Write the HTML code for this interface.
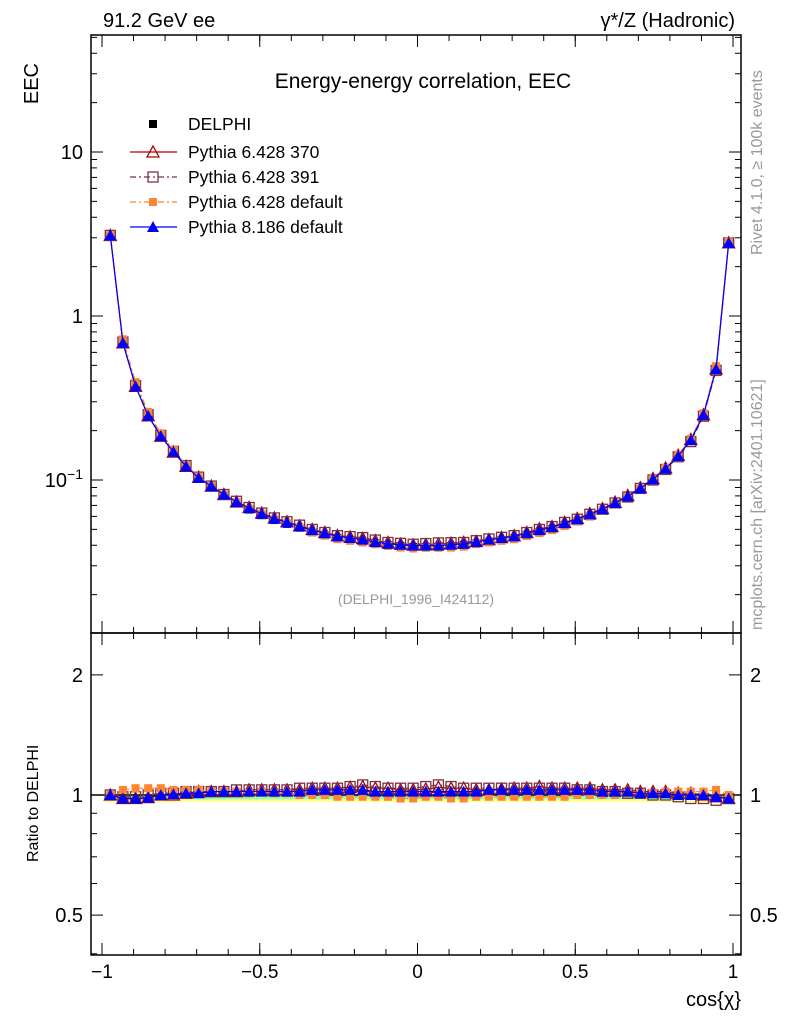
<!DOCTYPE html>
<html><head><meta charset="utf-8"><style>
body{margin:0;background:#fff}
svg{font-family:"Liberation Sans",sans-serif}
</style></head><body>
<svg id="c" width="786" height="1024" xmlns="http://www.w3.org/2000/svg">
<text x="103" y="27" font-size="20">91.2 GeV ee</text>
<text x="735" y="27" font-size="20" text-anchor="end">γ*/Z (Hadronic)</text>
<text x="423" y="88" font-size="21" text-anchor="middle">Energy-energy correlation, EEC</text>
<text x="38" y="63" font-size="20" transform="rotate(-90 38 63)" text-anchor="end">EEC</text>
<text x="38" y="862" font-size="16" transform="rotate(-90 38 862)">Ratio to DELPHI</text>
<text x="741" y="1006" font-size="20" text-anchor="end">cos{χ}</text>
<text x="416" y="604" font-size="14" fill="#999" text-anchor="middle">(DELPHI_1996_I424112)</text>
<text x="762" y="255" font-size="16" fill="#999" transform="rotate(-90 762 255)">Rivet 4.1.0, ≥ 100k events</text>
<text x="762" y="630" font-size="16" fill="#999" transform="rotate(-90 762 630)">mcplots.cern.ch [arXiv:2401.10621]</text>
<g id="g"></g>
</svg>
<script>
const centers=[];for(let i=0;i<50;i++)centers.push(-0.98+0.04*i);
const delphi=[3.1,0.7,0.38,0.25,0.185,0.148,0.12,0.102,0.09,0.08,0.072,0.066,0.061,0.057,0.054,0.051,0.048,0.046,0.044,0.043,0.042,0.041,0.040,0.0395,0.039,0.039,0.039,0.0395,0.040,0.041,0.042,0.043,0.044,0.046,0.048,0.050,0.053,0.056,0.060,0.065,0.071,0.078,0.088,0.10,0.116,0.14,0.175,0.25,0.48,2.85];
const r370=[1.0,0.98,0.98,0.985,1.0,1.0,1.01,1.02,1.02,1.02,1.02,1.03,1.03,1.03,1.03,1.03,1.04,1.04,1.04,1.045,1.05,1.04,1.04,1.03,1.03,1.035,1.045,1.04,1.04,1.03,1.03,1.035,1.04,1.04,1.05,1.04,1.04,1.04,1.04,1.03,1.03,1.03,1.02,1.02,1.02,1.01,1.01,1.0,0.99,0.98];
const r391=[1.0,0.99,0.99,1.0,1.01,1.01,1.02,1.02,1.02,1.02,1.03,1.03,1.03,1.03,1.03,1.04,1.04,1.04,1.04,1.05,1.06,1.05,1.04,1.04,1.04,1.05,1.06,1.05,1.04,1.04,1.04,1.04,1.04,1.04,1.04,1.04,1.04,1.03,1.03,1.02,1.02,1.01,1.01,1.0,1.0,0.99,0.98,0.98,0.97,0.98];
const rdef=[1.0,1.03,1.04,1.04,1.04,1.03,1.03,1.03,1.02,1.02,1.02,1.01,1.02,1.01,1.01,1.0,1.0,1.0,0.99,0.99,0.99,0.99,0.99,0.98,0.98,0.99,0.99,0.98,0.98,0.99,0.99,0.99,0.99,0.99,0.99,0.99,0.99,1.0,1.0,1.0,1.0,1.01,1.01,1.01,1.02,1.02,1.02,1.02,1.03,1.0];
const r8=[1.0,0.98,0.98,0.985,1.0,1.005,1.01,1.01,1.02,1.02,1.02,1.02,1.02,1.02,1.02,1.02,1.03,1.03,1.03,1.03,1.03,1.02,1.02,1.02,1.02,1.02,1.02,1.02,1.02,1.02,1.03,1.03,1.03,1.03,1.03,1.03,1.03,1.03,1.03,1.02,1.02,1.02,1.01,1.01,1.01,1.0,1.0,1.0,0.99,0.98];
const xTicks=[-1,-0.5,0,0.5,1],xTickLabels=["−1","−0.5","0","0.5","1"];
const L=91,R=741,T=35,MB=633,RB=955;
const X=v=>417.5+315.5*v+2;
const Y=v=>152-164*(Math.log10(v)-1);
const YR=v=>795-399*Math.log10(v);
const g=document.getElementById('g');const NS='http://www.w3.org/2000/svg';
function el(t,a,nm,p){const e=document.createElementNS(NS,t);for(const k in a)e.setAttribute(k,a[k]);


(p||g).appendChild(e);return e;}
for(let i=0;i<50;i++){const x0=X(centers[i]-0.02),w=315.5*0.04;
el('rect',{x:x0,y:YR(1.01),width:w,height:YR(0.96)-YR(1.01),fill:'#ffff99'},'ratio-band-yellow');
el('rect',{x:x0,y:YR(1.005),width:w,height:YR(0.975)-YR(1.005),fill:'#99ff99'},'ratio-band-green');}
el('rect',{x:L,y:T,width:R-L,height:MB-T,fill:'none',stroke:'#000','stroke-width':1.5},'main-frame');
el('rect',{x:L,y:MB,width:R-L,height:RB-MB,fill:'none',stroke:'#000','stroke-width':1.5},'ratio-frame');
el('line',{x1:L,x2:R,y1:YR(1),y2:YR(1),stroke:'#000','stroke-width':1.5},'ratio-unity-line');
xTicks.forEach((v,i)=>{const x=X(v)-2;
[[MB,-12],[T,12],[RB,-12],[MB,12]].forEach(([y,d])=>el('line',{x1:x,x2:x,y1:y,y2:y+d,stroke:'#000'},'x-tick'));
const t=el('text',{x:x,y:978,'font-size':19,'text-anchor':'middle'},'x-tick-label');t.textContent=xTickLabels[i];});
for(let v=-1;v<=1.001;v+=0.1){const x=X(v)-2;[[MB,-6],[T,6],[RB,-6],[MB,6]].forEach(([y,d])=>el('line',{x1:x,x2:x,y1:y,y2:y+d,stroke:'#000'},'x-minor-tick'));}
for(let e=-2;e<=1;e++)for(let m=1;m<10;m++){const v=m*Math.pow(10,e),y=Y(v);if(y<T||y>MB)continue;const len=m==1?12:6;
el('line',{x1:L,x2:L+len,y1:y,y2:y,stroke:'#000'},'y-tick');el('line',{x1:R,x2:R-len,y1:y,y2:y,stroke:'#000'},'y-tick');}
[[10,'10'],[1,'1']].forEach(([v,s])=>{const t=el('text',{x:83,y:Y(v)+7,'font-size':20,'text-anchor':'end'},'y-tick-label');t.textContent=s;});
const tl=el('text',{x:83,y:Y(0.1)+7,'font-size':20,'text-anchor':'end'},'y-tick-label');tl.innerHTML='10<tspan dy="-8" font-size="14">−1</tspan>';
[0.4,0.5,0.6,0.7,0.8,0.9,1,2].forEach(v=>{const y=YR(v);const len=(v==1||v==2||v==0.5)?12:6;
el('line',{x1:L,x2:L+len,y1:y,y2:y,stroke:'#000'},'ratio-tick');el('line',{x1:R,x2:R-len,y1:y,y2:y,stroke:'#000'},'ratio-tick');});
[[2,'2'],[1,'1'],[0.5,'0.5']].forEach(([v,s])=>{let t=el('text',{x:83,y:YR(v)+7,'font-size':20,'text-anchor':'end'},'ratio-tick-label');t.textContent=s;
t=el('text',{x:750,y:YR(v)+7,'font-size':20},'ratio-tick-label-right');t.textContent=s;});
function mark(type,x,y,nm){
if(type=='tri')el('path',{d:`M${x},${y-6}L${x+6},${y+5}L${x-6},${y+5}Z`,fill:'none',stroke:'#a00','stroke-width':1.3},nm);
if(type=='sq')el('rect',{x:x-5,y:y-5,width:10,height:10,fill:'none',stroke:'#734','stroke-width':1.3},nm);
if(type=='fsq')el('rect',{x:x-4,y:y-4,width:8,height:8,fill:'#ff8533'},nm);
if(type=='btri')el('path',{d:`M${x},${y-6}L${x+6},${y+5}L${x-6},${y+5}Z`,fill:'#00f'},nm);
if(type=='data')el('rect',{x:x-4,y:y-4,width:8,height:8,fill:'#000'},nm);}
const series=[[r370,'#a00','tri','',"pythia-6428-370"],[r391,'#734','sq','6,3,2,3',"pythia-6428-391"],[rdef,'#ff8533','fsq','6,3,2,3',"pythia-6428-default"],[r8,'#00f','btri','',"pythia-8186-default"]];
for(let i=0;i<50;i++)mark('data',X(centers[i]),Y(delphi[i]),'delphi-point');
series.forEach(([r,c,m,d,nm])=>{
el('polyline',{points:centers.map((x,i)=>X(x)+','+Y(delphi[i]*r[i])).join(' '),fill:'none',stroke:c,'stroke-width':1.2,'stroke-dasharray':d},nm+'-line');
centers.forEach((x,i)=>mark(m,X(x),Y(delphi[i]*r[i]),nm+'-marker'));
el('polyline',{points:centers.map((x,i)=>X(x)+','+YR(r[i])).join(' '),fill:'none',stroke:c,'stroke-width':1.2,'stroke-dasharray':d},nm+'-ratio-line');
centers.forEach((x,i)=>mark(m,X(x),YR(r[i]),nm+'-ratio-marker'));});
const names=["Pythia 6.428 370","Pythia 6.428 391","Pythia 6.428 default","Pythia 8.186 default"];
mark('data',153,124,'legend-delphi-marker');
let t=el('text',{x:188,y:130,'font-size':17.5},'legend-delphi');t.textContent='DELPHI';
series.forEach(([r,c,m,d,nm],i)=>{const y=152+25*i;
el('line',{x1:130,x2:177,y1:y,y2:y,stroke:c,'stroke-width':1.2,'stroke-dasharray':d},'legend-line');
mark(m,153,y,'legend-marker');
const tt=el('text',{x:188,y:y+6,'font-size':17.5},'legend-entry');tt.textContent=names[i];});
</script>
</body></html>
